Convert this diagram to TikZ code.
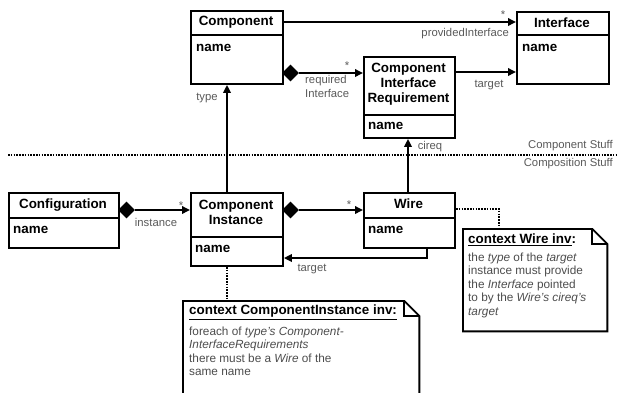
\documentclass[tikz,border=0pt]{standalone}
\usepackage{fontspec}
\setmainfont{Liberation Sans}
\usetikzlibrary{arrows.meta,shapes.geometric}
\definecolor{lblgray}{gray}{0.35}
\definecolor{notegray}{gray}{0.3}
\begin{document}
\begin{tikzpicture}[x=1pt,y=-1pt,
  box/.style={draw, line width=1.9pt, anchor=north west, inner sep=0},
  ttl/.style={font=\fontsize{13.4}{15}\selectfont\bfseries, align=center, inner sep=0},
  attr/.style={font=\fontsize{13.4}{15}\selectfont\bfseries, anchor=west, inner sep=0},
  lbl/.style={font=\fontsize{11.3}{14}\selectfont, text=lblgray, inner sep=0},
  con/.style={line width=1.8pt, -{Triangle[length=8pt,width=7.5pt]}},
  dia/.style={diamond, fill=black, inner sep=0, minimum width=17pt, minimum height=17pt},
  dots/.style={line width=1.8pt, dash pattern=on 1.6pt off 1.2pt},
  pen/.style={line width=1.9pt},
  notehead/.style={font=\fontsize{13.4}{15}\selectfont\bfseries, anchor=north west, inner sep=0},
  notebody/.style={font=\fontsize{11.8}{13.5}\selectfont, text=notegray, anchor=north west, inner sep=0, align=left},
  noteframe/.style={anchor=north west, inner sep=0}
]
\useasboundingbox (0,0) rectangle (618,392);

% ---- classes ----
\node[box, minimum width=92pt, minimum height=73pt] (comp) at (190,10) {};
\draw[pen] (190,35) -- (282,35);
\node[ttl] (compT) at (236,22.5) {Component};
\node[attr] (compA) at (196,48) {name};

\node[box, minimum width=92pt, minimum height=72pt] (iface) at (516,11) {};
\draw[pen] (516,35) -- (608,35);
\node[ttl] (ifaceT) at (562,23) {Interface};
\node[attr] (ifaceA) at (522,48) {name};

\node[box, minimum width=91pt, minimum height=81pt] (cir) at (363,56) {};
\draw[pen] (363,115) -- (454,115);
\node[ttl] (cirT) at (408.5,84) {Component\\Interface\\Requirement};
\node[attr] (cirA) at (368,126) {name};

\node[box, minimum width=110pt, minimum height=55pt] (conf) at (8,192) {};
\draw[pen] (8,218) -- (118,218);
\node[ttl] (confT) at (63,205) {Configuration};
\node[attr] (confA) at (13,230) {name};

\node[box, minimum width=92pt, minimum height=73pt] (ci) at (190,192) {};
\draw[pen] (190,237) -- (282,237);
\node[ttl] (ciT) at (236,212) {Component\\Instance};
\node[attr] (ciA) at (195,249) {name};

\node[box, minimum width=91pt, minimum height=55pt] (wire) at (363,192) {};
\draw[pen] (363,218) -- (454,218);
\node[ttl] (wireT) at (408.5,204) {Wire};
\node[attr] (wireA) at (368,230) {name};

% ---- separator ----
\draw[dots] (8,155) -- (618,155);
\node[lbl, anchor=east] (stuff1) at (613,146) {Component Stuff};
\node[lbl, anchor=east] (stuff2) at (613,164) {Composition Stuff};

% ---- diamonds ----
\node[dia] (d1) at (290.5,73) {};
\node[dia] (d2) at (290.5,210) {};
\node[dia] (d3) at (126.5,210) {};

% ---- connectors ----
\draw[con] (comp.east |- 0,22) -- (iface.west |- 0,22);
\node[lbl] (star1) at (503,15) {*};
\node[lbl, anchor=east] (provL) at (509,34) {providedInterface};

\draw[con] (d1.east) -- (cir.west |- d1.east);
\node[lbl] (star2) at (347,66) {*};
\node[lbl, anchor=north west, align=left] (reqL) at (305,75) {required\\Interface};

\draw[con] (cir.east |- 0,72) -- (iface.west |- 0,72);
\node[lbl] (targL1) at (489,85) {target};

\draw[con] (ci.north -| 227,0) -- (comp.south -| 227,0);
\node[lbl] (typeL) at (207,98) {type};

\draw[con] (wire.north -| 408,0) -- (cir.south -| 408,0);
\node[lbl] (cireqL) at (430,147) {cireq};

\draw[con] (d3.east) -- (ci.west |- d3.east);
\node[lbl] (star3) at (181,206) {*};
\node[lbl] (instL) at (156,222) {instance};

\draw[con] (d2.east) -- (wire.west |- d2.east);
\node[lbl] (star4) at (349,205) {*};

\draw[con] (wire.south -| 427,0) |- (ci.east |- 0,258);
\node[lbl] (targL2) at (312,269) {target};

% ---- Wire note ----
\node[noteframe, minimum width=144pt, minimum height=102pt] (wnote) at (463,229) {};
\draw[pen] (wnote.north west) -- ([xshift=-15pt]wnote.north east) -- ([yshift=-15pt]wnote.north east) -- (wnote.south east) -- (wnote.south west) -- cycle;
\draw[pen] ([xshift=-15pt]wnote.north east) -- ([xshift=-15pt,yshift=-15pt]wnote.north east) -- ([yshift=-15pt]wnote.north east);
\node[notehead] (wnH) at (468,234) {\underline{context Wire inv}:};
\node[notebody] (wnB) at (468,252.5) {the \textit{type} of the \textit{target}\\instance must provide\\the \textit{Interface} pointed\\to by the \textit{Wire's cireq's}\\\textit{target}};
\draw[dots] (wire.east |- 0,209) -| (wnote.north -| 499,0);

% ---- ComponentInstance note ----
\node[noteframe, minimum width=236pt, minimum height=93pt] (cinote) at (183,301) {};
\draw[pen] (cinote.south west) -- (cinote.north west) -- ([xshift=-15pt]cinote.north east) -- ([yshift=-15pt]cinote.north east) -- (cinote.south east);
\draw[pen] ([xshift=-15pt]cinote.north east) -- ([xshift=-15pt,yshift=-15pt]cinote.north east) -- ([yshift=-15pt]cinote.north east);
\node[notehead] (cinH) at (189,305) {\underline{context ComponentInstance inv:}};
\node[notebody] (cinB) at (189,326.5) {foreach of \textit{type's Component-}\\\textit{InterfaceRequirements}\\there must be a \textit{Wire} of the\\same name};
\draw[dots] (ci.south -| 227,0) -- (cinote.north -| 227,0);
\end{tikzpicture}
\end{document}
